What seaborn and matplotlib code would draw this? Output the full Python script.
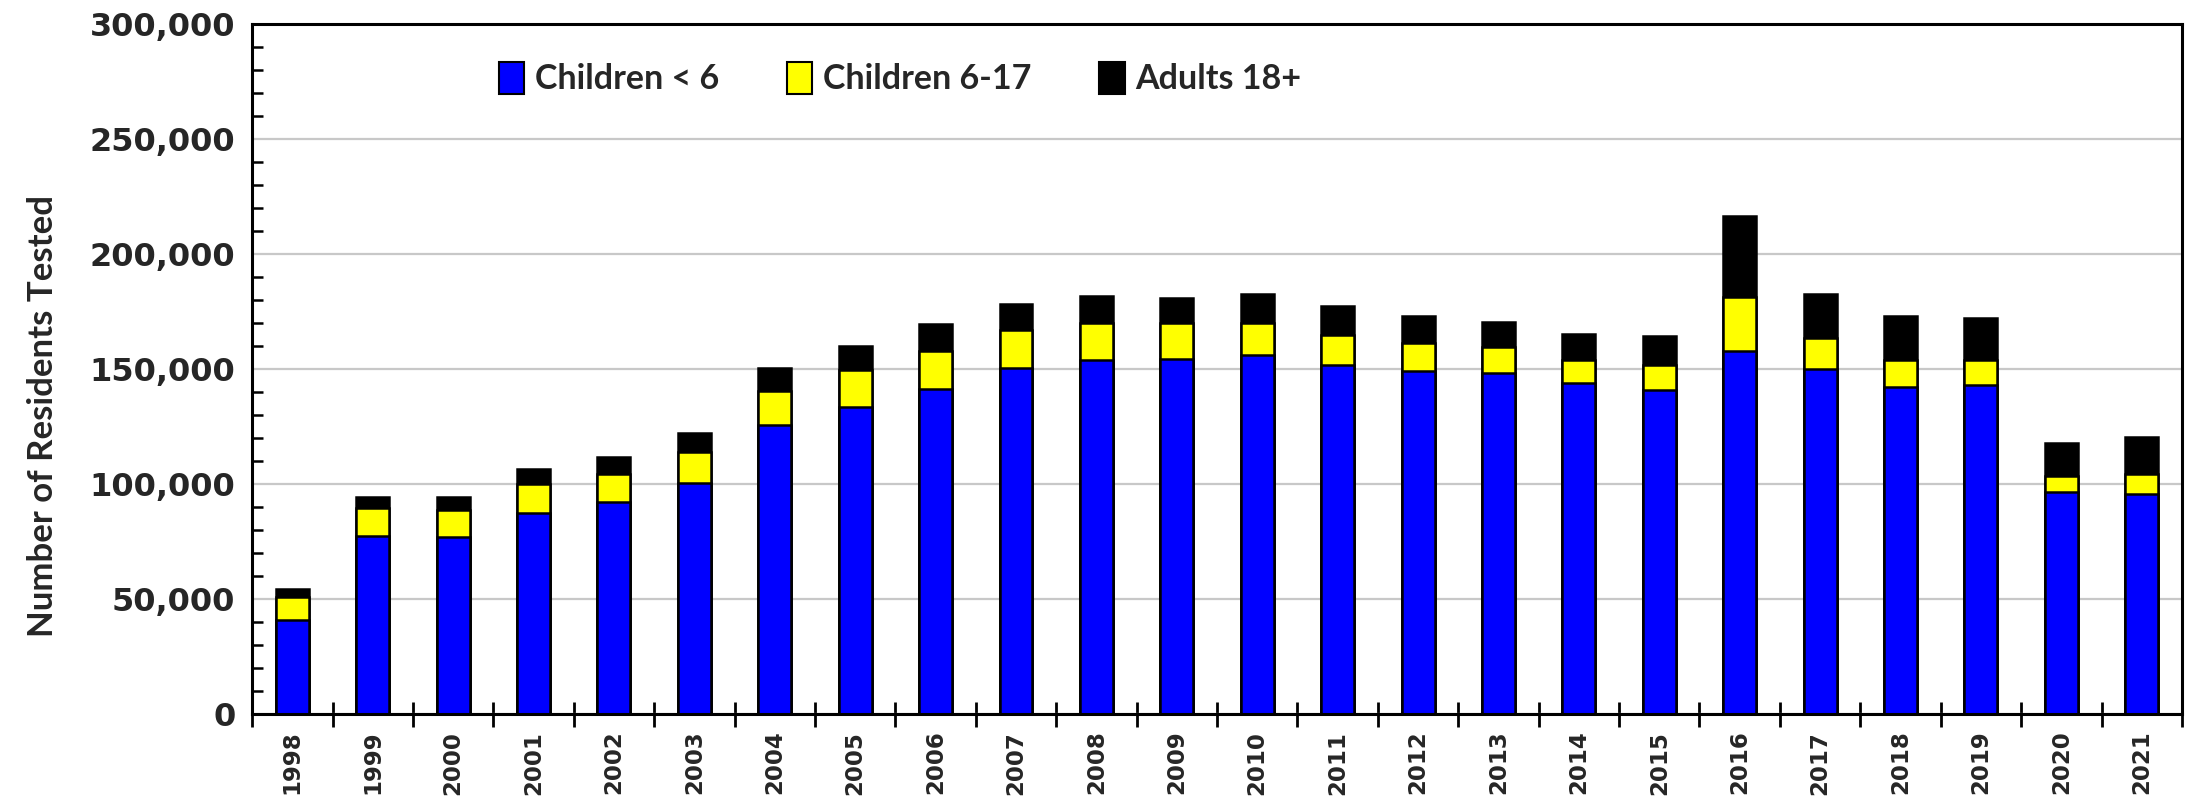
import matplotlib
matplotlib.use("Agg")
import matplotlib.pyplot as plt
import seaborn as sns
import pandas as pd
from matplotlib.patches import Patch
from matplotlib.ticker import MultipleLocator, FuncFormatter

years = [str(y) for y in range(1998, 2022)]
children_under6 = [41000, 77600, 76800, 87300, 92400, 100400, 125700, 133500, 141400, 150300,
                   153800, 154500, 156300, 151900, 149200, 148400, 143800, 141100, 158000, 150000,
                   142200, 143200, 96600, 95800]
children_6_17 = [9900, 11800, 11800, 12600, 12000, 13500, 14600, 16300, 16300, 16800,
                 16200, 15500, 13700, 12900, 12100, 11000, 10200, 10500, 23300, 13700,
                 11800, 10800, 6800, 8600]
adults_18 = [3400, 4800, 5600, 6800, 7400, 8300, 10000, 10200, 11700, 11100,
             11800, 11000, 12600, 12600, 11800, 10900, 11200, 12900, 35300, 18900,
             18900, 18100, 14600, 16200]

labels = ["Children < 6", "Children 6-17", "Adults 18+"]
colors = ["#0000FF", "#FFFF00", "#000000"]

df = pd.DataFrame({"year": years,
                   "blue": children_under6,
                   "yellow": children_6_17,
                   "black": adults_18})
df["cum_yellow"] = df["blue"] + df["yellow"]
df["total"] = df["cum_yellow"] + df["black"]

sns.set_theme(style="white")
plt.rcParams["font.family"] = ["DejaVu Sans"]

fig = plt.figure(figsize=(21.96, 8.02), dpi=100)
ax = fig.add_axes([0.1148, 0.1097, 0.9936 - 0.1148, 0.970 - 0.1097])

bw = 0.41
common = dict(edgecolor="black", linewidth=1.8, width=bw, ax=ax, saturation=1)
sns.barplot(data=df, x="year", y="total", color=colors[2], **common)
sns.barplot(data=df, x="year", y="cum_yellow", color=colors[1], **common)
sns.barplot(data=df, x="year", y="blue", color=colors[0], **common)

ax.set_xlim(-0.5, len(years) - 0.5)
ax.set_ylim(0, 300000)
ax.yaxis.set_major_locator(MultipleLocator(50000))
ax.yaxis.set_minor_locator(MultipleLocator(10000))
ax.yaxis.set_major_formatter(FuncFormatter(lambda v, p: f"{int(v):,}"))
ax.grid(axis="y", which="major", color="#c8c8c8", linewidth=1.6)
ax.set_axisbelow(True)

for s in ax.spines.values():
    s.set_visible(True)
    s.set_color("black")
    s.set_linewidth(2.2)

ax.tick_params(axis="y", which="major", direction="inout", length=16, width=2,
               color="black", labelsize=23, pad=4)
ax.tick_params(axis="y", which="minor", direction="in", length=8, width=1.8,
               color="black", left=True)
for t in ax.get_yticklabels():
    t.set_fontweight("bold")

# x ticks at category boundaries
ax.set_xticks([i for i in range(len(years))])
ax.set_xticklabels(years, rotation=90, fontsize=16.5, fontweight="bold")
ax.tick_params(axis="x", which="major", length=0, pad=12)
ax.set_xticks([i - 0.5 for i in range(len(years) + 1)], minor=True)
ax.tick_params(axis="x", which="minor", direction="inout", length=18, width=2,
               color="black", bottom=True)

ax.set_xlabel("")
ax.set_ylabel("Number of Residents Tested", fontsize=25, fontweight="bold",
              family=["Lato", "DejaVu Sans"])
ax.yaxis.set_label_coords(-0.100, 0.432)

handles = [Patch(facecolor=c, edgecolor="black", linewidth=1.5) for c in colors]
leg = ax.legend(handles, labels, loc="upper left", bbox_to_anchor=(0.112, 0.99),
                ncol=3, frameon=False, handlelength=0.75, handleheight=1.1,
                handletextpad=0.3, columnspacing=2.0,
                prop={"family": ["Lato", "DejaVu Sans"], "weight": "bold", "size": 24.5})

fig.savefig("out.png", dpi=100)
